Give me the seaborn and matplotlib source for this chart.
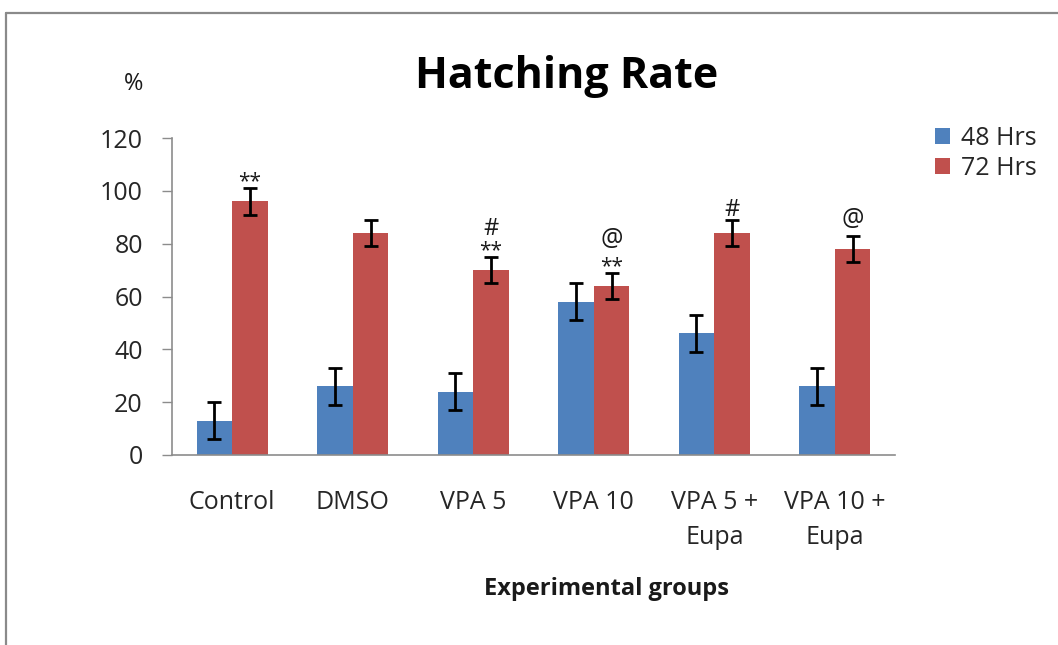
import numpy as np
import pandas as pd
import matplotlib
matplotlib.use("Agg")
import matplotlib.pyplot as plt
import seaborn as sns
from matplotlib.lines import Line2D
from matplotlib.ticker import FixedLocator

# Hatching rate (%) per experimental group, mean and error
groups = ["Control", "DMSO", "VPA 5", "VPA 10", "VPA 5 +\nEupa", "VPA 10 +\nEupa"]
series = ["48 Hrs", "72 Hrs"]
hrs48 = [13, 26, 24, 58, 46, 26]
hrs48_err = [7, 7, 7, 7, 7, 7]
hrs72 = [96, 84, 70, 64, 84, 78]
hrs72_err = [5, 5, 5, 5, 5, 5]
# significance marks above the 72 Hrs bars, listed from the bottom up
marks72 = [["**"], [], ["**", "#"], ["**", "@"], ["#"], ["@"]]

df = pd.DataFrame({
    "group": groups * 2,
    "time": [series[0]] * len(groups) + [series[1]] * len(groups),
    "rate": hrs48 + hrs72,
    "err": hrs48_err + hrs72_err,
})

sns.set_style("white")
FONT = ["Open Sans", "DejaVu Sans"]
plt.rcParams["font.family"] = FONT

W, H = 1058, 645
PX = 72 / 100  # points per pixel at 100 dpi
fig = plt.figure(figsize=(W / 100, H / 100), dpi=100)
ax = fig.add_axes([172 / W, 1 - 455 / H, (895 - 172) / W, (455 - 138) / H])

palette = {"48 Hrs": "#4F81BD", "72 Hrs": "#C0504D"}
sns.barplot(data=df, x="group", y="rate", hue="time", order=groups,
            hue_order=series, palette=palette, saturation=1, width=0.59,
            errorbar=None, ax=ax, linewidth=0)

# symbol sizes (pt), glyph centre height above the baseline (em),
# distance from the error cap to the first symbol and between stacked symbols (px)
sym_size = {"**": 15, "#": 17, "@": 18}
sym_mid = {"**": 0.60, "#": 0.36, "@": 0.29}
first_gap = {"**": 13, "#": 12, "@": 17}
stack_gap = {"#": 17, "@": 21}

# error bars placed on the centres of the drawn bars
for cont, s in zip(ax.containers, series):
    sub = df[df["time"] == s].set_index("group").loc[groups]
    xs = [p.get_x() + p.get_width() / 2 for p in cont]
    ax.errorbar(xs, sub["rate"].values, yerr=sub["err"].values, fmt="none",
                ecolor="black", elinewidth=2.0, capsize=5, capthick=2.0, zorder=5)
    if s == "72 Hrs":
        for x, v, e, ms in zip(xs, sub["rate"].values, sub["err"].values, marks72):
            centre = 0.0
            for i, m in enumerate(ms):
                centre += first_gap[m] if i == 0 else stack_gap[m]
                size = sym_size[m]
                base = centre * PX - sym_mid[m] * size
                ax.annotate(m, xy=(x, v + e), xytext=(0, base), textcoords="offset points",
                            ha="center", va="baseline", fontsize=size, color="#1a1a1a")

ax.set_ylim(0, 120)
ax.set_xlim(-0.5, len(groups) - 0.5)
ax.set_yticks(np.arange(0, 121, 20))
ax.set_xlabel("")
ax.set_ylabel("")
ax.xaxis.set_minor_locator(FixedLocator(np.arange(-0.5, len(groups), 1.0)))
ax.tick_params(axis="x", which="major", length=0, pad=25, labelsize=18, labelcolor="#262626")
ax.tick_params(axis="x", which="minor", length=7, width=1, color="#8c8c8c", direction="out")
ax.tick_params(axis="y", which="major", length=7, width=1, color="#8c8c8c", direction="out",
               pad=14, labelsize=18, labelcolor="#262626", left=True)
for lab in ax.get_xticklabels():
    lab.set_linespacing(1.55)
    lab.set_verticalalignment("top")
for side in ["top", "right"]:
    ax.spines[side].set_visible(False)
for side in ["left", "bottom"]:
    ax.spines[side].set_color("#8c8c8c")
    ax.spines[side].set_linewidth(1.2)

sns.move_legend(ax, "upper left", bbox_to_anchor=(935 / W, 1 - 126 / H),
                bbox_transform=fig.transFigure, frameon=False, title=None,
                fontsize=18, handlelength=0.6, handleheight=0.6, handletextpad=0.45,
                labelspacing=0.2, borderpad=0, borderaxespad=0)
for t in ax.get_legend().get_texts():
    t.set_color("#262626")

fig.text(567 / W, 1 - 88 / H, "Hatching Rate", ha="center", va="baseline",
         fontsize=31, fontweight="bold", color="black")
fig.text(134 / W, 1 - 84 / H, "%", ha="center", va="center", fontsize=17,
         color="#1a1a1a")
fig.text(606 / W, 1 - 595 / H, "Experimental groups", ha="center", va="baseline",
         fontsize=17, fontweight="bold", color="#1a1a1a")

# outer frame of the chart area
fig.add_artist(Line2D([5.5 / W, 5.5 / W], [0, 1 - 13 / H], transform=fig.transFigure,
                      color="#8a8a8a", lw=1.6))
fig.add_artist(Line2D([5.5 / W, 1], [1 - 13 / H, 1 - 13 / H], transform=fig.transFigure,
                      color="#8a8a8a", lw=1.6))

fig.savefig("out.png", dpi=100)
